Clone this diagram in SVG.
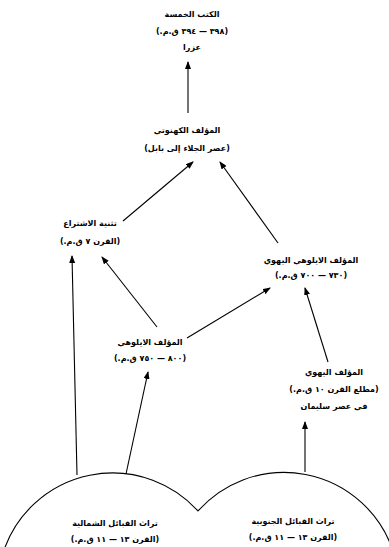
<svg xmlns="http://www.w3.org/2000/svg" width="389" height="547" viewBox="0 0 389 547">
<style>
text{font-family:"DejaVu Sans",sans-serif;font-weight:bold;font-size:8px;fill:#000;text-anchor:middle;direction:rtl}
.c{stroke:#000;stroke-width:1.1;fill:none}
</style>
<defs>
<marker id="ah" markerWidth="8" markerHeight="6" refX="7" refY="3" orient="auto" markerUnits="userSpaceOnUse">
<path d="M0,0 L8,3 L0,6 Z" fill="#000"/>
</marker>
</defs>
<rect width="389" height="547" fill="#fff"/>
<g id="connectors">
<line class="c" x1="188" y1="113" x2="188" y2="62" marker-end="url(#ah)"/>
<line class="c" x1="123" y1="221" x2="193" y2="162" marker-end="url(#ah)"/>
<line class="c" x1="278" y1="243" x2="220" y2="162" marker-end="url(#ah)"/>
<line class="c" x1="157" y1="327" x2="102" y2="257" marker-end="url(#ah)"/>
<line class="c" x1="187" y1="338" x2="270" y2="288" marker-end="url(#ah)"/>
<line class="c" x1="328" y1="362" x2="305" y2="288" marker-end="url(#ah)"/>
<line class="c" x1="77" y1="475" x2="72" y2="256" marker-end="url(#ah)"/>
<line class="c" x1="126" y1="474" x2="148" y2="372" marker-end="url(#ah)"/>
<line class="c" x1="305" y1="472" x2="305" y2="422" marker-end="url(#ah)"/>
</g>
<g id="tribes-arcs">
<path class="c" d="M4,550 A115,115 0 0 1 198,511 A115,115 0 0 1 392,548"/>
</g>
<g id="torah">
<text x="192" y="17">الكتب الخمسة</text>
<text x="192" y="34">(٣٩٨ — ٣٩٤ ق.م.)</text>
<text x="192" y="50">عزرا</text>
</g>
<g id="priestly">
<text x="187" y="133">المؤلف الكهنوتي</text>
<text x="187" y="151">(عصر الجلاء إلى بابل)</text>
</g>
<g id="deuteronomy">
<text x="90" y="226">تثنية الاشتراع</text>
<text x="90" y="244">(القرن ٧ ق.م.)</text>
</g>
<g id="jehovist">
<text x="311" y="263">المؤلف الايلوهي اليهوي</text>
<text x="311" y="278">(٧٣٠ — ٧٠٠ ق.م.)</text>
</g>
<g id="elohist">
<text x="150" y="345">المؤلف الايلوهي</text>
<text x="150" y="361">(٨٠٠ — ٧٥٠ ق.م.)</text>
</g>
<g id="yahwist">
<text x="334" y="375">المؤلف اليهوي</text>
<text x="334" y="392">(مطلع القرن ١٠ ق.م.)</text>
<text x="334" y="409">في عصر سليمان</text>
</g>
<g id="northern">
<text x="115" y="526">تراث القبائل الشمالية</text>
<text x="115" y="542">(القرن ١٣ — ١١ ق.م.)</text>
</g>
<g id="southern">
<text x="293" y="524">تراث القبائل الجنوبية</text>
<text x="293" y="540">(القرن ١٣ — ١١ ق.م.)</text>
</g>
</svg>
